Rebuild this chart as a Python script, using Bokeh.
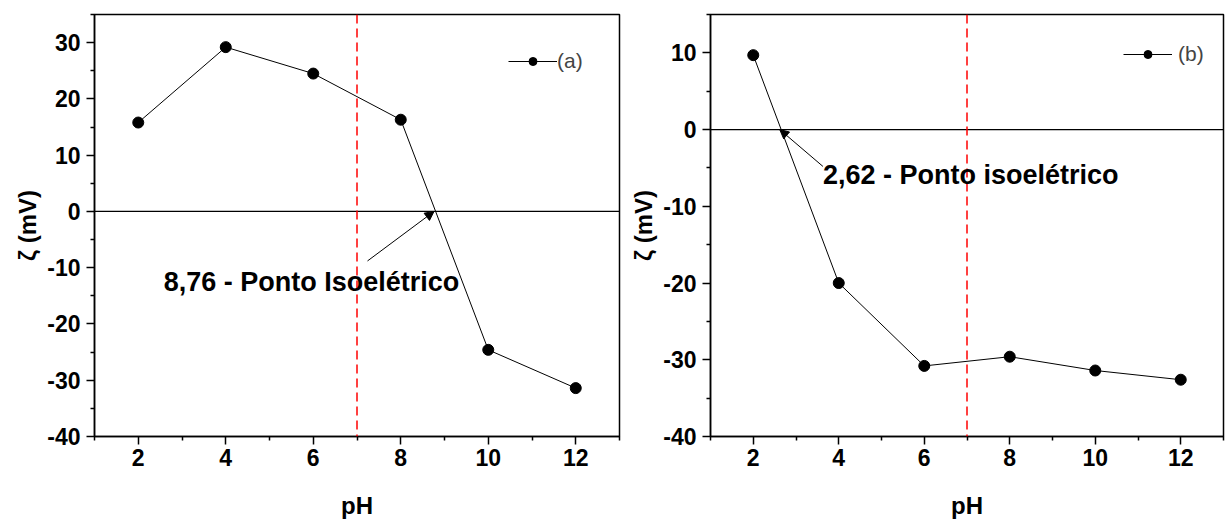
from bokeh.plotting import figure
from bokeh.models import Span, Arrow, NormalHead, Label, Legend, LegendItem, FixedTicker, Range1d
from bokeh.layouts import row
from bokeh.embed import file_html
from bokeh.resources import INLINE

# ---- data ----
ph = [2, 4, 6, 8, 10, 12]
zeta_a = [15.8, 29.2, 24.5, 16.3, -24.6, -31.4]
zeta_b = [9.7, -20.0, -30.8, -29.6, -31.4, -32.6]
iep_a = 8.76
iep_b = 2.62
neutral_ph = 7
x_ticks = [2, 4, 6, 8, 10, 12]
y_ticks_a = [-40, -30, -20, -10, 0, 10, 20, 30]
y_ticks_b = [-40, -30, -20, -10, 0, 10]
label_a = "8,76 - Ponto Isoelétrico"
label_b = "2,62 - Ponto isoelétrico"
series_a = "(a)"
series_b = "(b)"
x_title = "pH"
y_title = "ζ (mV)"

FONT = "Liberation Sans"


def make_panel(y, yticks, yrange, width, height, borders, legend_label, legend_loc,
               legend_standoff, iep, arrow_tail, text, text_pos):
    bl, br, bt, bb = borders
    p = figure(width=width, height=height, output_backend="svg", toolbar_location=None,
               x_range=Range1d(1, 13), y_range=Range1d(*yrange),
               min_border_left=bl, min_border_right=br, min_border_top=bt, min_border_bottom=bb)
    p.xgrid.visible = False
    p.ygrid.visible = False
    p.outline_line_color = "black"
    p.outline_line_width = 1.5
    p.outline_line_alpha = 1

    p.xaxis.ticker = FixedTicker(ticks=x_ticks, minor_ticks=[t - 1 for t in x_ticks] + [x_ticks[-1] + 1])
    ymin = [t - 5 for t in yticks] + [yticks[-1] + 5]
    p.yaxis.ticker = FixedTicker(ticks=yticks, minor_ticks=ymin)
    p.yaxis.major_label_overrides = {t: str(t) for t in yticks}
    for ax in (p.xaxis[0], p.yaxis[0]):
        ax.axis_line_width = 1.5
        ax.axis_line_color = "black"
        ax.major_tick_line_width = 1.5
        ax.minor_tick_line_width = 1.5
        ax.major_tick_in = 0
        ax.major_tick_out = 8
        ax.minor_tick_in = 0
        ax.minor_tick_out = 4
        ax.major_label_text_font = FONT
        ax.major_label_text_font_style = "bold"
        ax.major_label_text_font_size = "23px"
        ax.major_label_text_color = "black"
        ax.axis_label_text_font = FONT
        ax.axis_label_text_font_style = "bold"
        ax.axis_label_text_font_size = "24px"
        ax.axis_label_text_color = "black"
    p.xaxis.major_label_standoff = 4
    p.yaxis.major_label_standoff = 6
    p.xaxis.axis_label = x_title
    p.yaxis.axis_label = y_title
    p.xaxis.axis_label_standoff = 23
    p.yaxis.axis_label_standoff = 3

    p.add_layout(Span(location=0, dimension="width", line_color="black", line_width=1.3))
    p.add_layout(Span(location=neutral_ph, dimension="height", line_color="red",
                      line_width=1.5, line_dash="9 5"))

    lr = p.line(ph, y, line_color="black", line_width=1)
    sr = p.scatter(ph, y, size=11, marker="circle", fill_color="black", line_color="black")

    p.add_layout(Arrow(end=NormalHead(size=9, fill_color="black", line_color="black"),
                       x_start=arrow_tail[0], y_start=arrow_tail[1], x_end=iep, y_end=0,
                       line_color="black", line_width=1))
    p.add_layout(Label(x=text_pos[0], y=text_pos[1], text=text, text_baseline="middle",
                       text_font=FONT, text_font_style="bold", text_font_size="27px",
                       text_color="black"))

    leg = Legend(items=[LegendItem(label=legend_label, renderers=[lr, sr])],
                 location=legend_loc, glyph_width=49, glyph_height=20, label_standoff=legend_standoff,
                 padding=0, margin=0, spacing=0, border_line_color=None, background_fill_alpha=0,
                 label_text_font=FONT, label_text_font_size="21px", label_height=20)
    p.add_layout(leg)
    return p


p1 = make_panel(zeta_a, y_ticks_a, (-40, 35), 625, 521, (94, 6, 13, 84), series_a, (414, 363), 0,
                iep_a, (7.24, -8.8), label_a, (2.58, -12.5))
p2 = make_panel(zeta_b, y_ticks_b, (-40, 15), 606, 521, (85, 8, 14, 82), series_b, (413, 370), 6,
                iep_b, (3.63, -4.8), label_b, (3.63, -5.95))

layout = row(p1, p2)
open("out.html", "w").write(file_html(layout, INLINE))
